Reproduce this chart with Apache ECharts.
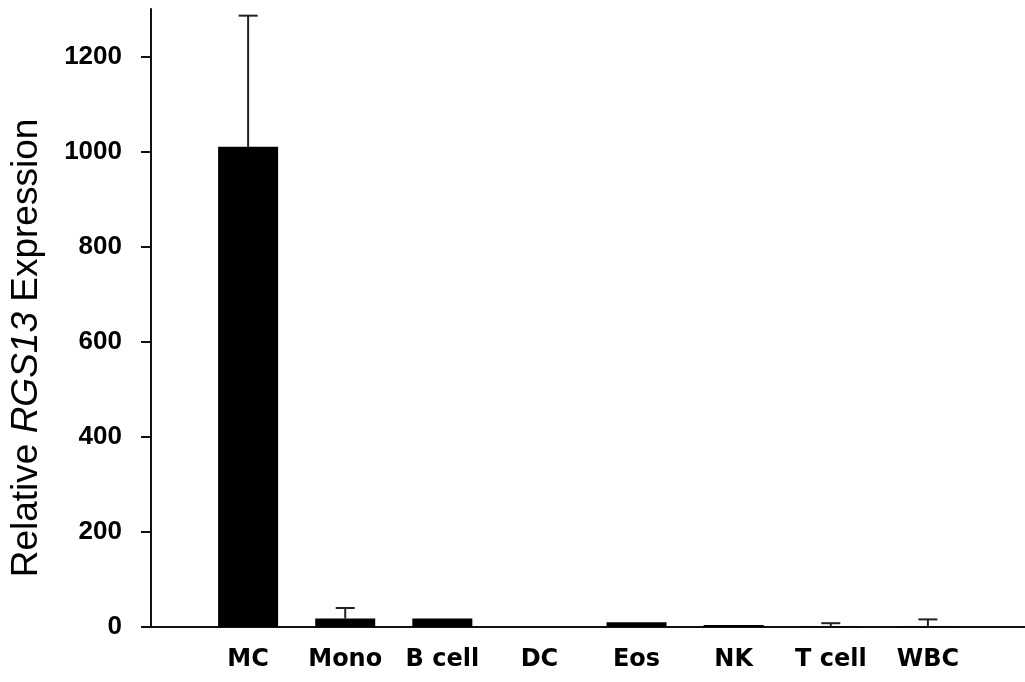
<!DOCTYPE html>
<html>
<head>
<meta charset="utf-8">
<script src="https://cdn.jsdelivr.net/npm/echarts@6/dist/echarts.min.js"></script>
<style>html,body{margin:0;padding:0;background:#fff}#c{width:1025px;height:682px}</style>
</head>
<body>
<div id="c"></div>
<script>
var categories = ['MC', 'Mono', 'B cell', 'DC', 'Eos', 'NK', 'T cell', 'WBC'];
var values = [1010, 18, 18, 0, 10, 4, 1, 1];
var errorTop = [1286, 40, null, null, null, null, 8, 16];
var yTicks = [0, 200, 400, 600, 800, 1000, 1200];

var barData = values.map(function (v, i) { return [i, v]; });
var errData = [];
errorTop.forEach(function (e, i) { if (e != null) errData.push([i, values[i], e]); });

var chart = echarts.init(document.getElementById('c'), null, {renderer: 'canvas'});
chart.setOption({
  animation: false,
  backgroundColor: '#fff',
  grid: {left: 151, right: 0, top: 9, bottom: 55, containLabel: false},
  xAxis: {
    type: 'value', min: -1, max: 8, interval: 1,
    splitLine: {show: false},
    axisTick: {show: false},
    axisLine: {show: true, onZero: false, lineStyle: {color: '#111', width: 2}},
    axisLabel: {
      margin: 21, color: '#000', fontSize: 24, fontWeight: 'bold', fontFamily: 'DejaVu Sans',
      showMinLabel: false, showMaxLabel: false,
      formatter: function (v) { var i = Math.round(v); return (Math.abs(v - i) < 1e-6 && categories[i]) ? categories[i] : ''; }
    }
  },
  yAxis: {
    type: 'value', min: 0, max: 1300, interval: 200,
    splitLine: {show: false},
    axisLine: {show: true, onZero: false, lineStyle: {color: '#111', width: 2}},
    axisTick: {show: true, inside: false, length: 10, lineStyle: {color: '#111', width: 2}},
    axisLabel: {
      margin: 29, color: '#000', fontSize: 26, fontWeight: 'bold', fontFamily: 'Liberation Sans',
      showMaxLabel: false,
      formatter: function (v) { return yTicks.indexOf(v) >= 0 ? String(v) : ''; }
    },
    name: '{n|Relative }{i|RGS13}{n| Expression}',
    nameLocation: 'middle', nameGap: 106, nameRotate: 90,
    nameTextStyle: {
      padding: [0, 60, 0, 0],
      rich: {
        n: {fontSize: 37, color: '#000', fontFamily: 'Liberation Sans'},
        i: {fontSize: 37, color: '#000', fontStyle: 'italic', fontFamily: 'Liberation Sans'}
      }
    }
  },
  series: [
    {
      type: 'bar', data: barData, barWidth: 60,
      itemStyle: {color: '#000'}
    },
    {
      type: 'custom', data: errData, z: 1,
      renderItem: function (params, api) {
        var x = api.value(0);
        var p0 = api.coord([x, api.value(1)]);
        var p1 = api.coord([x, api.value(2)]);
        var hw = 9.5;
        return {
          type: 'group',
          children: [
            {type: 'line', shape: {x1: p0[0], y1: p0[1], x2: p1[0], y2: p1[1]}, style: {stroke: '#222', lineWidth: 2}},
            {type: 'line', shape: {x1: p1[0] - hw, y1: p1[1], x2: p1[0] + hw, y2: p1[1]}, style: {stroke: '#222', lineWidth: 2}}
          ]
        };
      }
    }
  ]
});
</script>
</body>
</html>
